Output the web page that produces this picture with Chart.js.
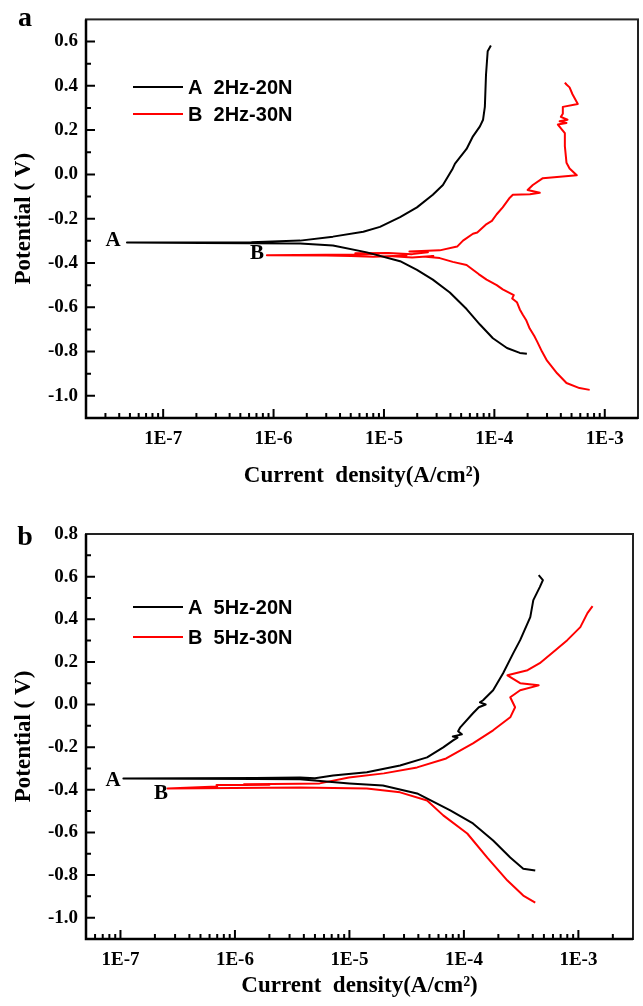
<!DOCTYPE html>
<html>
<head>
<meta charset="utf-8">
<script src="https://cdn.jsdelivr.net/npm/chart.js@4/dist/chart.umd.min.js"></script>
<style>
html, body { margin: 0; padding: 0; background: #fff; }
#wrap { position: relative; width: 643px; height: 1006px; }
#graficoA { position: absolute; left: 0; top: 0; }
#graficoB { position: absolute; left: 0; top: 500px; }
</style>
</head>
<body>
<div id="wrap">
<canvas id="graficoA" width="643" height="500"></canvas>
<canvas id="graficoB" width="643" height="506"></canvas>
</div>
<script>
// ---- panel a : 2 Hz ----
var nomesA = ["A  2Hz-20N", "B  2Hz-30N"];
var xTicksA = [1e-7, 1e-6, 1e-5, 1e-4, 1e-3];
var yTicksA = [-1.0, -0.8, -0.6, -0.4, -0.2, 0.0, 0.2, 0.4, 0.6];

// curve A (black): cathodic branch up to Ecorr, then anodic branch
var a20N_x = [1.97e-4, 1.70e-4, 1.30e-4, 9.7e-5, 7.4e-5, 5.6e-5, 3.95e-5, 2.77e-5, 1.99e-5, 1.40e-5,
  7.0e-6, 3.45e-6, 1.74e-6, 6.1e-7, 2.2e-7, 4.7e-8, 2.2e-7, 6.3e-7, 1.74e-6, 3.45e-6,
  6.5e-6, 9.2e-6, 1.40e-5, 1.99e-5, 2.77e-5, 3.42e-5, 4.2e-5, 4.4e-5, 5.6e-5, 6.4e-5,
  7.4e-5, 7.9e-5, 8.2e-5, 8.4e-5, 8.7e-5, 9.3e-5];
var a20N_y = [-0.810, -0.806, -0.784, -0.740, -0.678, -0.608, -0.533, -0.475, -0.431, -0.392,
  -0.352, -0.321, -0.312, -0.311, -0.310, -0.308, -0.307, -0.306, -0.299, -0.281,
  -0.259, -0.237, -0.193, -0.149, -0.092, -0.048, 0.027, 0.049, 0.115, 0.172,
  0.217, 0.247, 0.305, 0.450, 0.556, 0.582];

// curve B (red)
var a30N_x = [7.3e-4, 5.9e-4, 4.5e-4, 3.7e-4, 3.0e-4, 2.7e-4, 2.43e-4, 2.3e-4, 2.09e-4, 1.95e-4,
  1.81e-4, 1.7e-4, 1.6e-4, 1.45e-4, 1.5e-4, 1.19e-4, 1.05e-4, 8.5e-5, 7.2e-5, 5.6e-5,
  4.2e-5, 3.2e-5, 2.4e-5, 2.8e-5, 1.8e-5, 1.2e-5, 1.6e-5, 8e-6, 5e-6, 3e-6,
  8.7e-7, 3e-6, 6e-6, 9e-6, 5.5e-6, 1.1e-5, 1.8e-5, 2.5e-5, 1.7e-5, 3.2e-5,
  4.6e-5, 5.2e-5, 6.4e-5, 7.0e-5, 8.5e-5, 9.5e-5, 1.05e-4, 1.19e-4, 1.38e-4, 1.47e-4,
  2.1e-4, 2.58e-4, 2.0e-4, 2.23e-4, 2.75e-4, 5.58e-4, 4.8e-4, 4.5e-4, 4.35e-4, 4.35e-4,
  3.76e-4, 4.5e-4, 3.9e-4, 4.6e-4, 4.0e-4, 4.17e-4, 4.17e-4, 5.7e-4, 5.1e-4, 4.8e-4,
  4.5e-4, 4.35e-4];
var a30N_y = [-0.973, -0.965, -0.942, -0.898, -0.841, -0.800, -0.753, -0.730, -0.696, -0.660,
  -0.634, -0.610, -0.577, -0.560, -0.545, -0.519, -0.500, -0.475, -0.450, -0.409,
  -0.395, -0.378, -0.372, -0.368, -0.375, -0.370, -0.366, -0.372, -0.368, -0.366,
  -0.365, -0.363, -0.362, -0.358, -0.356, -0.355, -0.360, -0.352, -0.348, -0.343,
  -0.326, -0.299, -0.268, -0.262, -0.224, -0.210, -0.180, -0.149, -0.105, -0.092,
  -0.090, -0.083, -0.070, -0.048, -0.017, -0.004, 0.027, 0.053, 0.128, 0.186,
  0.225, 0.232, 0.240, 0.247, 0.260, 0.274, 0.305, 0.318, 0.362, 0.393,
  0.406, 0.415];

// ---- panel b : 5 Hz ----
var nomesB = ["A  5Hz-20N", "B  5Hz-30N"];
var xTicksB = [1e-7, 1e-6, 1e-5, 1e-4, 1e-3];
var yTicksB = [-1.0, -0.8, -0.6, -0.4, -0.2, 0.0, 0.2, 0.4, 0.6, 0.8];

var b20N_x = [4.2e-4, 3.3e-4, 2.54e-4, 1.8e-4, 1.2e-4, 7.6e-5, 3.9e-5, 1.96e-5, 1.0e-5, 3.7e-6,
  1.5e-6, 1.06e-7, 1.5e-6, 2.4e-6, 3.7e-6, 5e-6, 7.2e-6, 1.42e-5, 2.77e-5, 4.77e-5,
  6.6e-5, 8.05e-5, 8.8e-5, 8.0e-5, 9.6e-5, 8.9e-5, 9.3e-5, 1.2e-4, 1.35e-4, 1.55e-4,
  1.38e-4, 1.47e-4, 1.8e-4, 2.2e-4, 2.7e-4, 3.1e-4, 3.8e-4, 4.04e-4, 4.6e-4, 4.9e-4,
  4.5e-4];
var b20N_y = [-0.779, -0.770, -0.718, -0.638, -0.558, -0.497, -0.417, -0.380, -0.370, -0.351,
  -0.349, -0.347, -0.345, -0.344, -0.342, -0.346, -0.333, -0.318, -0.286, -0.248,
  -0.201, -0.168, -0.155, -0.150, -0.140, -0.125, -0.107, -0.041, -0.013, 0.000,
  0.010, 0.020, 0.067, 0.147, 0.241, 0.302, 0.410, 0.490, 0.551, 0.584,
  0.607];

var b30N_x = [4.2e-4, 3.3e-4, 2.4e-4, 1.6e-4, 1.07e-4, 6.6e-5, 4.77e-5, 2.77e-5, 1.42e-5, 3.7e-6,
  2.58e-7, 7e-7, 6.9e-7, 2e-6, 1.2e-6, 3.7e-6, 5.5e-6, 9.9e-6, 2.0e-5, 3.9e-5,
  7.0e-5, 1.2e-4, 1.8e-4, 2.54e-4, 2.8e-4, 2.54e-4, 3.1e-4, 4.5e-4, 3.1e-4, 2.4e-4,
  3.6e-4, 4.6e-4, 6.0e-4, 8.0e-4, 1.04e-3, 1.2e-3, 1.33e-3];
var b30N_y = [-0.929, -0.896, -0.826, -0.718, -0.605, -0.520, -0.450, -0.412, -0.394, -0.389,
  -0.394, -0.385, -0.378, -0.378, -0.374, -0.372, -0.370, -0.342, -0.323, -0.295,
  -0.253, -0.182, -0.121, -0.060, -0.013, 0.034, 0.067, 0.090, 0.100, 0.137,
  0.161, 0.194, 0.245, 0.302, 0.363, 0.429, 0.462];

var serif = "'Liberation Serif', 'Times New Roman', serif";
var sans = "'Liberation Sans', Arial, sans-serif";

function pontos(xs, ys) {
  return xs.map(function (x, i) { return { x: x, y: ys[i] }; });
}

function serie(nome, xs, ys, cor) {
  return {
    label: nome,
    data: pontos(xs, ys),
    showLine: true,
    borderColor: cor,
    backgroundColor: cor,
    borderWidth: 2,
    borderJoinStyle: "round",
    pointRadius: 0,
    tension: 0,
  };
}

// frame, inward ticks, legend and text notes
function criarMoldura(cfg) {
  return {
    id: "moldura",
    afterDraw: function (chart) {
      var ctx = chart.ctx;
      var area = chart.chartArea;
      var sx = chart.scales.x;
      var sy = chart.scales.y;
      ctx.save();
      ctx.strokeStyle = "#000";
      ctx.lineWidth = 2;
      ctx.beginPath();
      var n = Math.round((sy.max - sy.min) * 10);
      for (var i = 1; i < n; i++) {
        var v = sy.min + i * 0.1;
        var major = cfg.yTicks.some(function (t) { return Math.abs(t - v) < 1e-6; });
        var py = sy.getPixelForValue(v);
        ctx.moveTo(area.left, py);
        ctx.lineTo(area.left + (major ? 9 : 5), py);
      }
      var e0 = Math.floor(Math.log10(sx.min));
      var e1 = Math.ceil(Math.log10(sx.max));
      for (var e = e0; e <= e1; e++) {
        for (var k = 1; k <= 9; k++) {
          var val = k * Math.pow(10, e);
          if (val <= sx.min * 1.001 || val >= sx.max * 0.999) continue;
          var px = sx.getPixelForValue(val);
          ctx.moveTo(px, area.bottom);
          ctx.lineTo(px, area.bottom - (k === 1 ? 9 : 5));
        }
      }
      ctx.stroke();

      ctx.strokeStyle = "#222";
      ctx.lineWidth = 2;
      ctx.strokeRect(area.left, area.top, area.right - area.left, area.bottom - area.top);
      ctx.strokeStyle = "#000";
      ctx.lineWidth = 2.5;
      ctx.beginPath();
      ctx.moveTo(area.left, area.top);
      ctx.lineTo(area.left, area.bottom);
      ctx.lineTo(area.right, area.bottom);
      ctx.stroke();

      // legend
      ctx.font = "bold 20px " + sans;
      ctx.textAlign = "left";
      ctx.textBaseline = "middle";
      chart.data.datasets.forEach(function (ds, j) {
        var ly = cfg.legenda.y + j * cfg.legenda.gap;
        ctx.strokeStyle = ds.borderColor;
        ctx.lineWidth = 2;
        ctx.beginPath();
        ctx.moveTo(cfg.legenda.x, ly);
        ctx.lineTo(cfg.legenda.x + 50, ly);
        ctx.stroke();
        ctx.fillStyle = "#000";
        ctx.fillText(ds.label, cfg.legenda.x + 55, ly + 1);
      });

      // curve notes and panel letter
      ctx.fillStyle = "#000";
      ctx.textAlign = "center";
      ctx.font = "bold 21px " + serif;
      cfg.notas.forEach(function (nt) {
        ctx.fillText(nt.texto, nt.x, nt.y);
      });
      ctx.font = "bold 28px " + serif;
      ctx.fillText(cfg.letra.texto, cfg.letra.x, cfg.letra.y);
      ctx.restore();
    },
  };
}

function criarGrafico(canvasId, cfg) {
  return new Chart(document.getElementById(canvasId), {
    type: "scatter",
    data: {
      datasets: [
        serie(cfg.nomes[0], cfg.s1x, cfg.s1y, "#000000"),
        serie(cfg.nomes[1], cfg.s2x, cfg.s2y, "#ff0000"),
      ],
    },
    options: {
      responsive: false,
      animation: false,
      events: [],
      layout: { padding: cfg.padding },
      plugins: { legend: { display: false }, tooltip: { enabled: false } },
      scales: {
        x: {
          type: "logarithmic",
          min: cfg.xMin,
          max: cfg.xMax,
          grid: { display: false, drawTicks: false },
          border: { display: false },
          afterBuildTicks: function (scale) {
            scale.ticks = cfg.xTicks.map(function (v) { return { value: v }; });
          },
          afterFit: function (scale) { scale.height = cfg.xAltura; },
          ticks: {
            autoSkip: false,
            maxRotation: 0,
            padding: 10,
            color: "#000",
            font: { family: serif, size: 19, weight: "bold" },
            callback: function (v) { return "1E" + Math.round(Math.log10(v)); },
          },
          title: {
            display: true,
            text: "Current  density(A/cm\u00B2)",
            color: "#000",
            font: { family: serif, size: 23, weight: "bold" },
            padding: { top: 0, bottom: cfg.tituloBaixo },
          },
        },
        y: {
          min: cfg.yMin,
          max: cfg.yMax,
          grid: { display: false, drawTicks: false },
          border: { display: false },
          afterBuildTicks: function (scale) {
            scale.ticks = cfg.yTicks.map(function (v) { return { value: v }; });
          },
          afterFit: function (scale) { scale.width = 86; },
          ticks: {
            autoSkip: false,
            padding: 8,
            color: "#000",
            font: { family: serif, size: 19, weight: "bold" },
            callback: function (v) { return Math.abs(v) < 1e-9 ? "0.0" : v.toFixed(1); },
          },
          title: {
            display: true,
            text: "Potential ( V)",
            color: "#000",
            font: { family: serif, size: 23, weight: "bold" },
            padding: { top: 10, bottom: 0 },
          },
        },
      },
    },
    plugins: [criarMoldura(cfg)],
  });
}

var graficoA = criarGrafico("graficoA", {
  nomes: nomesA, s1x: a20N_x, s1y: a20N_y, s2x: a30N_x, s2y: a30N_y,
  xTicks: xTicksA, yTicks: yTicksA,
  xMin: 2e-8, xMax: 2e-3, yMin: -1.1, yMax: 0.7,
  padding: { top: 11, right: 5, left: 0, bottom: 0 },
  xAltura: 82, tituloBaixo: 10,
  legenda: { x: 133, y: 87, gap: 27 },
  notas: [{ texto: "A", x: 113, y: 241 }, { texto: "B", x: 257, y: 254 }],
  letra: { texto: "a", x: 25, y: 19 },
});

var graficoB = criarGrafico("graficoB", {
  nomes: nomesB, s1x: b20N_x, s1y: b20N_y, s2x: b30N_x, s2y: b30N_y,
  xTicks: xTicksB, yTicks: yTicksB,
  xMin: 5e-8, xMax: 3e-3, yMin: -1.1, yMax: 0.8,
  padding: { top: 34, right: 10, left: 0, bottom: 0 },
  xAltura: 67, tituloBaixo: 6,
  legenda: { x: 133, y: 107, gap: 30 },
  notas: [{ texto: "A", x: 113, y: 281 }, { texto: "B", x: 161, y: 294 }],
  letra: { texto: "b", x: 25, y: 38 },
});
</script>
</body>
</html>
